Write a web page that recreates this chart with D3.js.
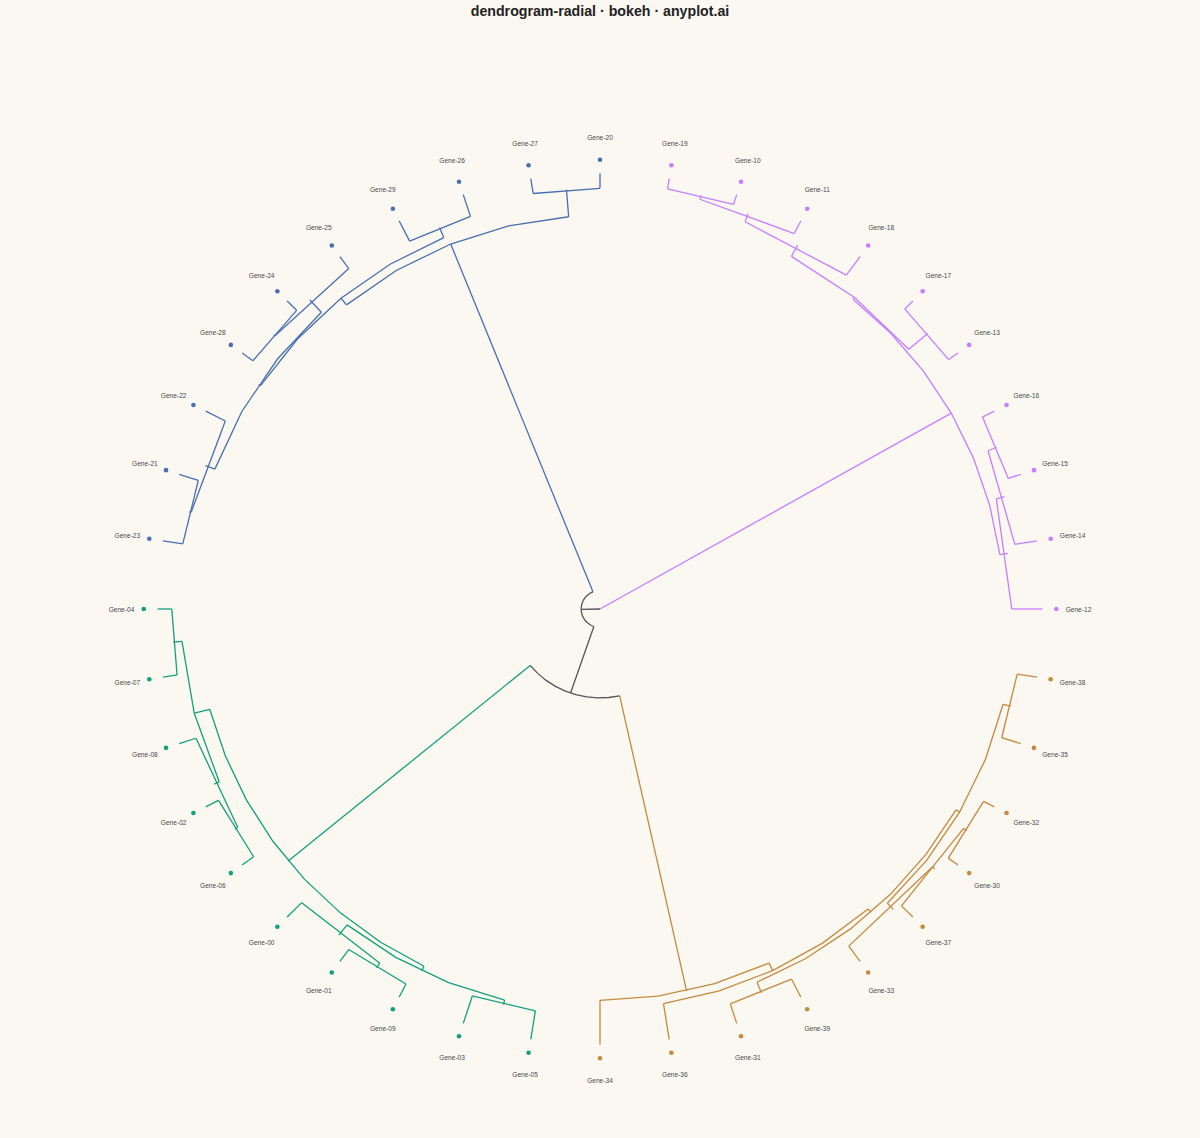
<!DOCTYPE html>
<html><head><meta charset="utf-8">
<script src="https://cdn.jsdelivr.net/npm/d3@7"></script>
<style>html,body{margin:0;padding:0;background:#FAF8F1;} svg{display:block}</style>
</head><body><svg id="chart" width="1200" height="1138"></svg>
<script>
// ---------- data ----------
const leafOrder = [
  "Gene-12","Gene-14","Gene-15","Gene-16","Gene-13","Gene-17","Gene-18","Gene-11","Gene-10","Gene-19",
  "Gene-20","Gene-27","Gene-26","Gene-29","Gene-25","Gene-24","Gene-28","Gene-22","Gene-21","Gene-23",
  "Gene-04","Gene-07","Gene-08","Gene-02","Gene-06","Gene-00","Gene-01","Gene-09","Gene-03","Gene-05",
  "Gene-34","Gene-36","Gene-31","Gene-39","Gene-33","Gene-37","Gene-30","Gene-32","Gene-35","Gene-38"];
const leafCluster = [
  0,0,0,0,0,0,0,0,0,0, 1,1,1,1,1,1,1,1,1,1, 2,2,2,2,2,2,2,2,2,2, 3,3,3,3,3,3,3,3,3,3];
const clusterColors = ["#C77DFF","#4A6FB0","#13A07A","#C48A3E"];
const aboveColor = "#555555";

const mergeIds    = ["p1","p2","p3","p4","p5","p6","p7","p8","p9",
                     "b1","b2","b3","b4","b5","b6","b7","b8","b9",
                     "g1","g2","g3","g4","g5","g6","g7","g8","g9",
                     "r1","r2","r3","r4","r5","r6","r7","r8","r9",
                     "u1","u2","u3"];
const mergeLeft   = ["Gene-15","Gene-14","Gene-12","Gene-13","Gene-10","Gene-11","Gene-18","p4","p3",
                     "Gene-20","Gene-26","Gene-24","Gene-25","Gene-21","Gene-22","b4","b2","b1",
                     "Gene-04","Gene-02","Gene-08","g1","Gene-01","Gene-00","Gene-03","g6","g4",
                     "Gene-30","Gene-37","Gene-33","Gene-35","r3","Gene-31","r6","Gene-36","Gene-34",
                     "g9","b9","p9"];
const mergeRight  = ["Gene-16","p1","p2","Gene-17","Gene-19","p5","p6","p7","p8",
                     "Gene-27","Gene-29","Gene-28","b3","Gene-23","b5","b6","b7","b8",
                     "Gene-07","Gene-06","g2","g3","Gene-09","g5","Gene-05","g7","g8",
                     "Gene-32","r1","r2","Gene-38","r4","Gene-39","r5","r7","r8",
                     "r9","u1","u2"];
const mergeHeight = [0.298,0.508,0.694,0.260,0.237,0.328,0.527,0.823,0.877,
                     0.344,0.524,0.305,0.341,0.454,0.497,0.723,0.773,0.969,
                     0.323,0.325,0.400,0.524,0.339,0.468,0.662,0.768,0.886,
                     0.271,0.364,0.436,0.454,0.631,0.468,0.728,0.829,1.019,
                     7.959,9.575,10.0];
const titleText = "dendrogram-radial \u00b7 bokeh \u00b7 anyplot.ai";

// ---------- scales ----------
const svg = d3.select("#chart");
const W = 1200, H = 1138;
svg.append("rect").attr("width", W).attr("height", H).attr("fill", "#FAF8F1");

const rootHeight = d3.max(mergeHeight);
const angle = d3.scaleLinear().domain([0, leafOrder.length]).range([0, 2 * Math.PI]);
const radius = d3.scaleLinear().domain([0, rootHeight]).range([442.5, 0]);
const xs = d3.scaleLinear().domain([-500, 500]).range([100, 1100]);
const ys = d3.scaleLinear().domain([-500, 500]).range([609 + 492.3, 609 - 492.3]);
const px = (r, a) => xs(r * Math.cos(a));
const py = (r, a) => ys(r * Math.sin(a));

// ---------- tree ----------
const nodes = {};
leafOrder.forEach((name, i) => {
  nodes[name] = {a: angle(i), h: 0, leaves: [i]};
});
mergeIds.forEach((id, k) => {
  const L = nodes[mergeLeft[k]], R = nodes[mergeRight[k]];
  nodes[id] = {a: (L.a + R.a) / 2, h: mergeHeight[k], leaves: L.leaves.concat(R.leaves), kids: [L, R]};
});
function colorOf(n) {
  const cs = new Set(n.leaves.map(i => leafCluster[i]));
  return cs.size === 1 ? clusterColors[[...cs][0]] : aboveColor;
}

const gLines = svg.append("g").attr("fill", "none").attr("stroke-width", 1.3)
  .attr("stroke-linejoin", "miter").attr("stroke-linecap", "butt");
const line = d3.line();

mergeIds.forEach(id => {
  const n = nodes[id];
  const rn = radius(n.h);
  n.kids.forEach(c => {
    const rc = radius(c.h);
    gLines.append("path")
      .attr("d", line([[px(rc, c.a), py(rc, c.a)], [px(rn, c.a), py(rn, c.a)]]))
      .attr("stroke", colorOf(c));
  });
  const a1 = n.kids[0].a, a2 = n.kids[1].a;
  const spanDeg = Math.abs(a2 - a1) * 180 / Math.PI;
  const npts = Math.max(2, Math.floor(spanDeg / 6));
  const pts = d3.range(npts).map(j => {
    const a = a1 + (a2 - a1) * j / (npts - 1);
    return [px(rn, a), py(rn, a)];
  });
  gLines.append("path").attr("d", line(pts)).attr("stroke", colorOf(n));
});

// ---------- leaves ----------
const gLeaf = svg.append("g");
leafOrder.forEach((name, i) => {
  const a = angle(i);
  gLeaf.append("circle")
    .attr("cx", px(456.3, a)).attr("cy", py(456.3, a)).attr("r", 2.3)
    .attr("fill", clusterColors[leafCluster[i]]);
  gLeaf.append("text")
    .attr("x", px(478.5, a)).attr("y", py(478.5, a))
    .attr("text-anchor", "middle").attr("dominant-baseline", "central")
    .attr("font-family", "'Liberation Sans', Arial, Helvetica, sans-serif")
    .attr("font-size", 6.6).attr("fill", "#4a4a4a")
    .text(name);
});

svg.append("text").attr("x", 600).attr("y", 16)
  .attr("text-anchor", "middle")
  .attr("font-family", "'Liberation Sans', Arial, Helvetica, sans-serif")
  .attr("font-weight", "bold").attr("font-size", 14.2).attr("fill", "#222")
  .text(titleText);
</script></body></html>
